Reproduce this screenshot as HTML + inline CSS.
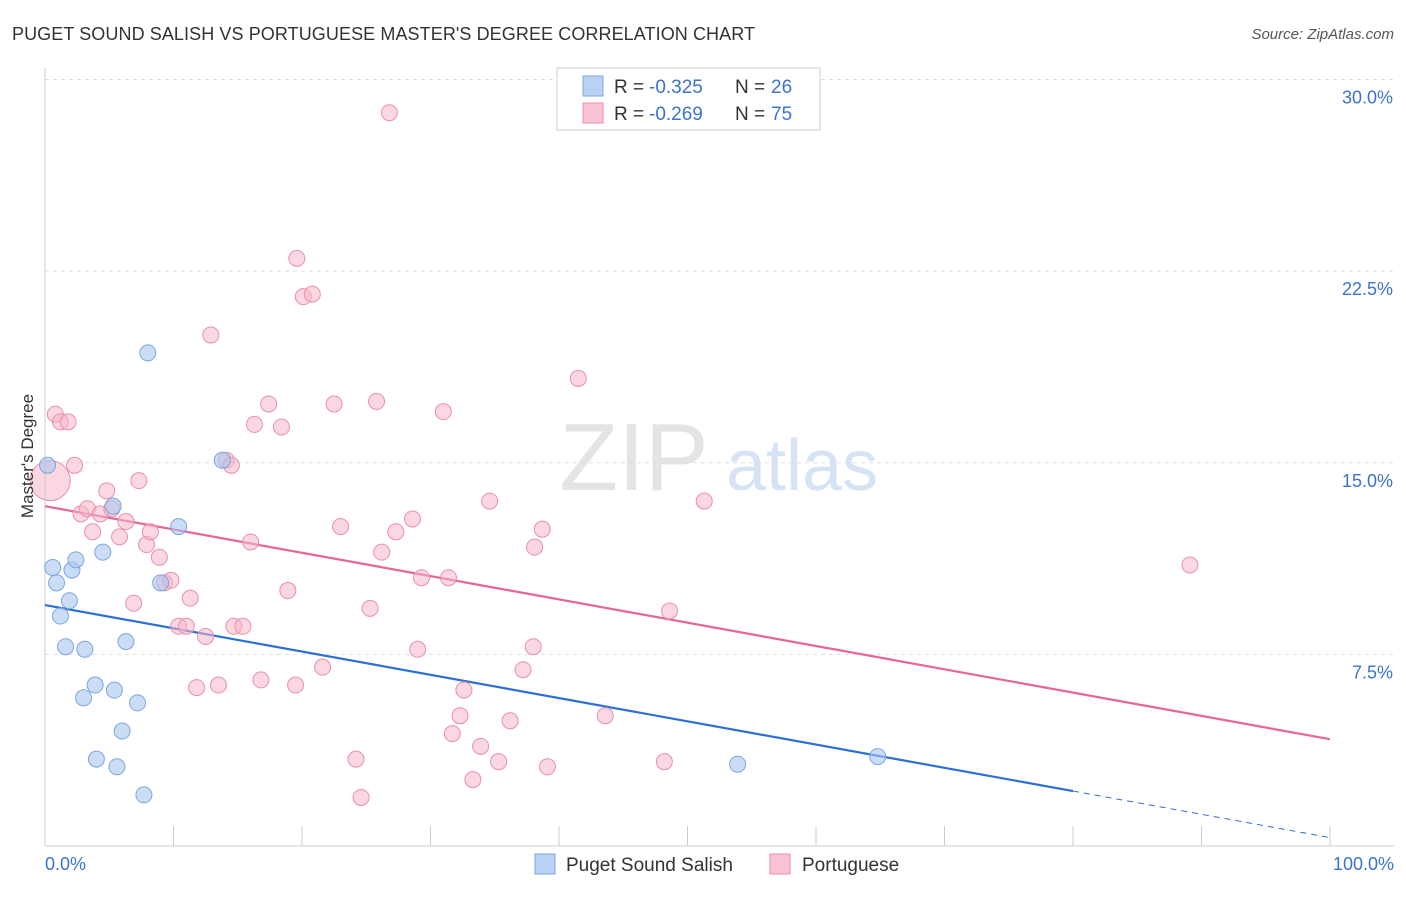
<!DOCTYPE html>
<html><head><meta charset="utf-8">
<style>
body{margin:0;background:#fff;font-family:"Liberation Sans",sans-serif;}
svg text{font-family:"Liberation Sans",sans-serif;}
</style></head>
<body>
<svg id="chart" width="1406" height="892" viewBox="0 0 1406 892" xmlns="http://www.w3.org/2000/svg">
<text x="12" y="40" font-size="18" fill="#333" textLength="743">PUGET SOUND SALISH VS PORTUGUESE MASTER'S DEGREE CORRELATION CHART</text>
<text x="1394" y="39" font-size="15" fill="#555" text-anchor="end" font-style="italic">Source: ZipAtlas.com</text>
<g>
<text x="634" y="490" font-size="96" fill="#e4e4e4" text-anchor="middle" font-family="Liberation Serif, serif">ZIP</text>
<text x="802" y="490" font-size="72" fill="#d6e3f5" text-anchor="middle">atlas</text>
</g>
<g id="grid"></g>
<g id="axes"></g>
<g id="lines"></g>
<g id="points"></g>
<text transform="translate(33,456) rotate(-90)" font-size="17" fill="#333" text-anchor="middle">Master's Degree</text>
<g>
<rect x="557" y="68" width="263" height="62" fill="#fff" stroke="#ccc"/>
<rect x="583" y="76" width="20" height="20" fill="#b9d1f3" stroke="#7ba6e0"/>
<rect x="583" y="103" width="20" height="20" fill="#f9c3d3" stroke="#eb8fab"/>
<text y="93" font-size="19" fill="#333"><tspan x="614">R = </tspan><tspan x="649" fill="#3b73d0">-0.325</tspan><tspan x="735">N = </tspan><tspan x="771" fill="#3b73d0">26</tspan></text>
<text y="120" font-size="19" fill="#333"><tspan x="614">R = </tspan><tspan x="649" fill="#3b73d0">-0.269</tspan><tspan x="735">N = </tspan><tspan x="771" fill="#3b73d0">75</tspan></text>
</g>
<g>
<rect x="535" y="854" width="20" height="20" fill="#b9d1f3" stroke="#7ba6e0"/>
<text x="566" y="871" font-size="19" fill="#333">Puget Sound Salish</text>
<rect x="770" y="854" width="20" height="20" fill="#f9c3d3" stroke="#eb8fab"/>
<text x="802" y="871" font-size="19" fill="#333">Portuguese</text>
</g>
</svg>
<script>
const yTicks=[7.5,15,22.5,30];
const yTickLabels=["7.5%","15.0%","22.5%","30.0%"];
const xTickLabels=["0.0%","100.0%"];
const salishX=[0.2,0.6,0.9,1.2,1.6,1.9,2.1,2.4,3.0,3.1,3.9,4.0,4.5,5.3,5.4,5.6,6.0,6.3,7.2,7.7,8.0,9.0,10.4,13.8,53.9,64.8];
const salishY=[14.9,10.9,10.3,9.0,7.8,9.6,10.8,11.2,5.8,7.7,6.3,3.4,11.5,13.3,6.1,3.1,4.5,8.0,5.6,2.0,19.3,10.3,12.5,15.1,3.2,3.5];
const portX=[0.4,0.8,1.2,1.8,2.3,2.8,3.3,3.7,4.3,4.8,5.2,5.8,6.3,6.9,7.3,7.9,8.2,8.9,9.3,9.8,10.4,11.0,11.3,11.8,12.5,12.9,13.5,14.1,14.5,14.7,15.4,16.0,16.3,16.8,17.4,18.4,18.9,19.5,19.6,20.1,20.8,21.6,22.5,23.0,24.2,24.6,25.3,25.8,26.2,26.8,27.3,28.6,29.0,29.3,31.0,31.4,31.7,32.3,32.6,33.3,33.9,34.6,35.3,36.2,37.2,38.0,38.1,38.7,39.1,41.5,43.6,48.2,48.6,51.3,89.1];
const portY=[14.3,16.9,16.6,16.6,14.9,13.0,13.2,12.3,13.0,13.9,13.2,12.1,12.7,9.5,14.3,11.8,12.3,11.3,10.3,10.4,8.6,8.6,9.7,6.2,8.2,20.0,6.3,15.1,14.9,8.6,8.6,11.9,16.5,6.5,17.3,16.4,10.0,6.3,23.0,21.5,21.6,7.0,17.3,12.5,3.4,1.9,9.3,17.4,11.5,28.7,12.3,12.8,7.7,10.5,17.0,10.5,4.4,5.1,6.1,2.6,3.9,13.5,3.3,4.9,6.9,7.8,11.7,12.4,3.1,18.3,5.1,3.3,9.2,13.5,11.0];
const salishTrend=[9.43,-0.091];
const portTrend=[13.3,-0.0912];
const NS="http://www.w3.org/2000/svg";
const X=v=>45+v*12.85, Y=v=>846-v*25.55;
function mk(t,a,p){const e=document.createElementNS(NS,t);for(const k in a)e.setAttribute(k,a[k]);p.appendChild(e);return e;}
const grid=document.getElementById('grid'),axes=document.getElementById('axes'),lines=document.getElementById('lines'),pts=document.getElementById('points');
yTicks.forEach((t,i)=>{
 const l=mk('line',{x1:45,x2:1394,y1:Y(t),y2:Y(t),stroke:'#ddd','stroke-dasharray':'4,4'},grid);
 
 
 const tx=mk('text',{x:1393,y:Y(t)+24,'font-size':18,fill:'#3b73d0','text-anchor':'end'},axes);
 tx.textContent=yTickLabels[i];
 
 
});
const yl=mk('line',{x1:45,x2:45,y1:68,y2:846,stroke:'#ccc'},axes);


const xl=mk('line',{x1:45,x2:1394,y1:846,y2:846,stroke:'#ccc'},axes);


for(let i=0;i<=10;i++){
 const t=mk('line',{x1:X(i*10),x2:X(i*10),y1:826,y2:846,stroke:'#ccc'},axes);
 
 
}
[[0,'start'],[100,'end']].forEach((p,i)=>{
 const tx=mk('text',{x:X(p[0])+(i?64:0),y:870,'font-size':18,fill:'#3b73d0','text-anchor':p[1]},axes);
 tx.textContent=xTickLabels[i];
 
 
});
function tl(tr,x0,x1,col,dash,name){
 const l=mk('line',{x1:X(x0),y1:Y(tr[0]+tr[1]*x0),x2:X(x1),y2:Y(tr[0]+tr[1]*x1),stroke:col,'stroke-width':dash?1:2.2},lines);
 if(dash)l.setAttribute('stroke-dasharray','6,5');
 
 
}
tl(salishTrend,0,80,'#2a6fd6',false,'salish-trend-line');
tl(salishTrend,80,100,'#2a6fd6',true,'salish-trend-extension');
tl(portTrend,0,100,'#e8659a',false,'portuguese-trend-line');
portX.forEach((x,i)=>{
 const c=mk('circle',{cx:X(x),cy:Y(portY[i]),r:i===0?20:8,fill:'#f6b6c8','fill-opacity':0.55,stroke:'#eb8fab','stroke-width':1},pts);
 
 
});
salishX.forEach((x,i)=>{
 const c=mk('circle',{cx:X(x),cy:Y(salishY[i]),r:8,fill:'#a9c6ee','fill-opacity':0.6,stroke:'#7ba6e0','stroke-width':1},pts);
 
 
});
</script>
</body></html>
